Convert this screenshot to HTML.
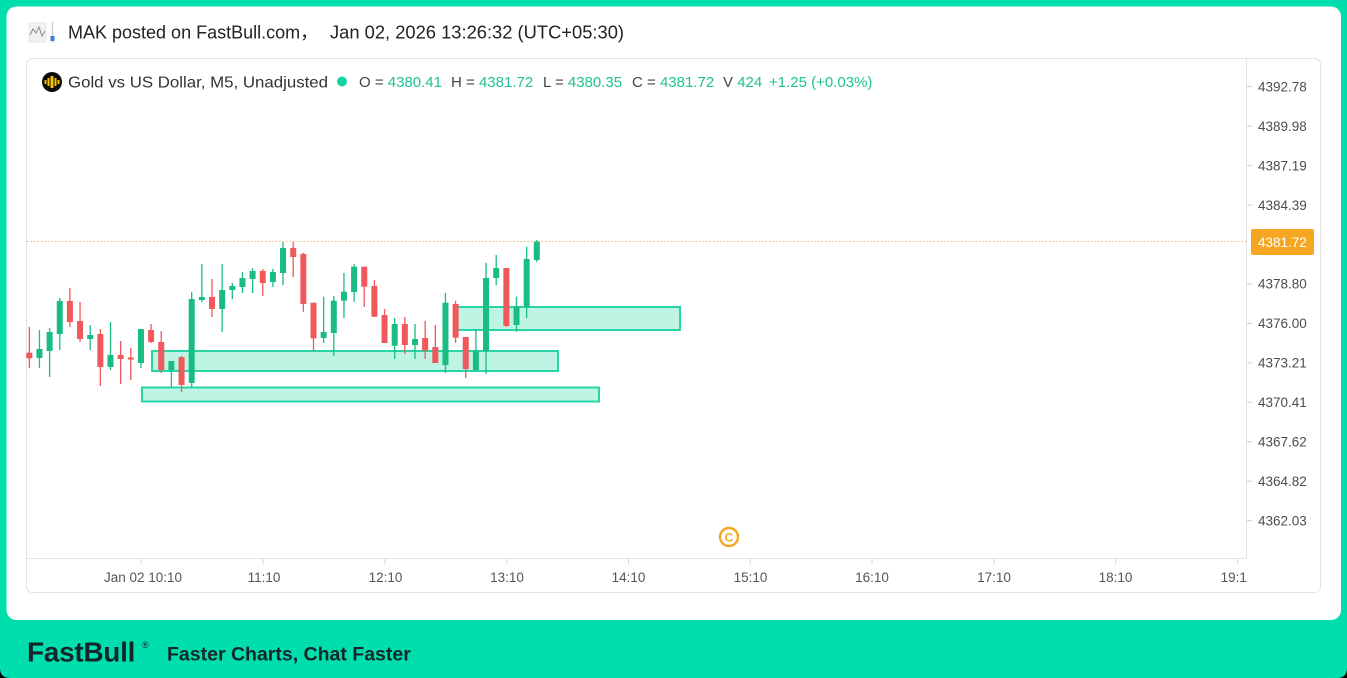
<!DOCTYPE html>
<html>
<head>
<meta charset="utf-8">
<style>
html,body{margin:0;padding:0;background:#000;}
svg{display:block;}
text{font-family:"Liberation Sans","Noto Sans CJK SC",sans-serif;}
</style>
</head>
<body>
<svg width="1347" height="678" viewBox="0 0 1347 678" xmlns="http://www.w3.org/2000/svg">
<defs>
<clipPath id="plotclip"><rect x="27" y="559" width="1219.5" height="32"/></clipPath>
</defs>
<!-- outer green -->
<path d="M0 0H1347V668Q1347 678 1337 678H10Q0 678 0 668Z" fill="#00DEAE"/>
<!-- white card -->
<rect x="6.5" y="6.5" width="1334.5" height="613.5" rx="10" fill="#ffffff"/>

<!-- header icon -->
<g>
<rect x="29" y="23" width="17" height="19" fill="#f2f2f2" stroke="#e2e2e2" stroke-width="0.8"/>
<polyline points="30,35 33,29 36,33 39,27 42,36 45,31" fill="none" stroke="#8a8a8a" stroke-width="1"/>
<line x1="52.5" y1="22" x2="52.5" y2="43" stroke="#d0d0d0" stroke-width="1.5"/>
<rect x="50.5" y="36" width="4" height="5" fill="#3d7fd6"/>
</g>
<text x="68" y="38.5" font-size="18" fill="#222">MAK posted on FastBull.com，</text>
<text x="330" y="38.5" font-size="18" fill="#222" textLength="294" lengthAdjust="spacingAndGlyphs">Jan 02, 2026 13:26:32 (UTC+05:30)</text>

<!-- chart frame -->
<rect x="26.5" y="58.5" width="1294" height="534" rx="6" fill="#fff" stroke="#e2e2e2" stroke-width="1"/>
<line x1="1246.5" y1="59" x2="1246.5" y2="558.5" stroke="#e4e4e4" stroke-width="1"/>
<line x1="27" y1="558.5" x2="1246.5" y2="558.5" stroke="#e4e4e4" stroke-width="1"/>

<!-- legend -->
<circle cx="52" cy="82" r="10" fill="#0d0d0d"/>
<g fill="#f5c400">
<rect x="44.5" y="80" width="2" height="4"/>
<rect x="47.5" y="78" width="2" height="8"/>
<rect x="50.5" y="76" width="3" height="12"/>
<rect x="54.5" y="78" width="2" height="8"/>
<rect x="57.5" y="80" width="2" height="4"/>
</g>
<text x="68" y="87.5" font-size="16" fill="#333" textLength="260" lengthAdjust="spacingAndGlyphs">Gold vs US Dollar, M5, Unadjusted</text>
<circle cx="342" cy="81.5" r="5" fill="#14d4a2"/>
<g font-size="15">
<text x="359" y="87" fill="#444">O = <tspan fill="#1fc292">4380.41</tspan></text>
<text x="451" y="87" fill="#444">H = <tspan fill="#1fc292">4381.72</tspan></text>
<text x="543" y="87" fill="#444">L = <tspan fill="#1fc292">4380.35</tspan></text>
<text x="632" y="87" fill="#444">C = <tspan fill="#1fc292">4381.72</tspan></text>
<text x="723" y="87" fill="#444">V <tspan fill="#1fc292">424</tspan></text>
<text x="769" y="87" fill="#1fc292">+1.25 (+0.03%)</text>
</g>

<!-- current price dotted line -->
<line x1="27" y1="241.5" x2="1246" y2="241.5" stroke="#f4bc6c" stroke-width="1" stroke-dasharray="1.5,2"/>

<!-- zones -->
<g fill="#bdf4e4" stroke="#27d6a4" stroke-width="2">
<rect x="142" y="387.5" width="457" height="14"/>
<rect x="152" y="351" width="406" height="20"/>
<rect x="457" y="307" width="223" height="23"/>
</g>

<!-- candles: green -->
<path fill="none" stroke="#19bc83" stroke-width="1.3" d="M39.45 330V368 M49.6 328V377 M59.75 298V350 M90.2 325V350 M110.5 322V370 M140.95 329V368 M171.4 361V388 M191.7 292V387 M201.85 264V302 M222.15 264V332 M232.3 283V299 M242.45 272V293 M252.6 268V293 M272.9 269V287 M283.05 242V285 M323.65 296.7V343 M333.8 296V356 M343.95 273V318 M354.1 264V301.7 M394.7 318V359 M415 324V359 M445.45 293V373 M475.9 329V370.7 M486.05 262.7V374 M496.2 255V285 M516.5 296.7V331.7 M526.65 246.7V318 M536.8 240V262"/>
<g fill="#19bc83">
<rect x="36.45" y="349" width="6" height="9"/>
<rect x="46.6" y="332" width="6" height="19"/>
<rect x="56.75" y="301" width="6" height="33"/>
<rect x="87.2" y="335" width="6" height="4"/>
<rect x="107.5" y="355" width="6" height="12"/>
<rect x="137.95" y="329" width="6" height="34"/>
<rect x="168.4" y="361" width="6" height="9"/>
<rect x="188.7" y="299" width="6" height="84"/>
<rect x="198.85" y="297" width="6" height="3"/>
<rect x="219.15" y="290" width="6" height="19"/>
<rect x="229.3" y="286" width="6" height="4"/>
<rect x="239.45" y="278" width="6" height="9"/>
<rect x="249.6" y="271" width="6" height="8"/>
<rect x="269.9" y="272" width="6" height="10"/>
<rect x="280.05" y="248" width="6" height="25"/>
<rect x="320.65" y="332" width="6" height="6"/>
<rect x="330.8" y="300.7" width="6" height="32.3"/>
<rect x="340.95" y="291.7" width="6" height="9"/>
<rect x="351.1" y="266.7" width="6" height="25.3"/>
<rect x="391.7" y="324" width="6" height="21.7"/>
<rect x="412" y="339" width="6" height="6"/>
<rect x="442.45" y="302.7" width="6" height="62.3"/>
<rect x="472.9" y="350.7" width="6" height="19.3"/>
<rect x="483.05" y="278" width="6" height="72.7"/>
<rect x="493.2" y="268" width="6" height="10"/>
<rect x="513.5" y="306.7" width="6" height="18.3"/>
<rect x="523.65" y="259" width="6" height="48"/>
<rect x="533.8" y="241.7" width="6" height="18.3"/>
</g>

<!-- candles: red -->
<path fill="none" stroke="#f0585b" stroke-width="1.3" d="M29.3 326.7V368.3 M69.9 288V327 M80.05 302V342 M100.35 329V386 M120.65 341V384 M130.8 348V380 M151.1 324V343 M161.25 331V373 M181.55 356V392 M212 279V317 M262.75 269V296 M293.2 242V277 M303.35 252.7V311.7 M313.5 302.7V350.7 M364.25 266.7V307 M374.4 280V317 M384.55 309V343 M404.85 317V354 M425.15 320.7V359 M435.3 325V363 M455.6 300.7V343 M465.75 336.7V378 M506.35 268V326.7"/>
<g fill="#f0585b">
<rect x="26.3" y="352.7" width="6" height="5.6"/>
<rect x="66.9" y="301" width="6" height="21"/>
<rect x="77.05" y="321" width="6" height="18"/>
<rect x="97.35" y="334" width="6" height="33"/>
<rect x="117.65" y="355" width="6" height="4"/>
<rect x="127.8" y="357.5" width="6" height="2"/>
<rect x="148.1" y="330" width="6" height="12"/>
<rect x="158.25" y="342" width="6" height="28"/>
<rect x="178.55" y="357" width="6" height="28"/>
<rect x="209" y="297" width="6" height="12"/>
<rect x="259.75" y="271" width="6" height="12"/>
<rect x="290.2" y="248" width="6" height="9"/>
<rect x="300.35" y="254" width="6" height="50"/>
<rect x="310.5" y="302.7" width="6" height="35.6"/>
<rect x="361.25" y="266.7" width="6" height="20"/>
<rect x="371.4" y="286" width="6" height="30.7"/>
<rect x="381.55" y="315" width="6" height="28"/>
<rect x="401.85" y="324" width="6" height="21"/>
<rect x="422.15" y="338" width="6" height="12.7"/>
<rect x="432.3" y="347" width="6" height="16"/>
<rect x="452.6" y="304" width="6" height="33.7"/>
<rect x="462.75" y="337" width="6" height="32"/>
<rect x="503.35" y="268" width="6" height="58"/>
</g>

<!-- copyright icon -->
<circle cx="729" cy="537" r="9" fill="none" stroke="#f5a623" stroke-width="2.4"/>
<text x="729" y="541.5" font-size="12" font-weight="bold" fill="#f5a623" text-anchor="middle">C</text>

<!-- price axis -->
<g stroke="#cfcfcf" stroke-width="1">
<line x1="1247" y1="86.7" x2="1252" y2="86.7"/>
<line x1="1247" y1="126.15" x2="1252" y2="126.15"/>
<line x1="1247" y1="165.6" x2="1252" y2="165.6"/>
<line x1="1247" y1="205.05" x2="1252" y2="205.05"/>
<line x1="1247" y1="283.95" x2="1252" y2="283.95"/>
<line x1="1247" y1="323.4" x2="1252" y2="323.4"/>
<line x1="1247" y1="362.85" x2="1252" y2="362.85"/>
<line x1="1247" y1="402.3" x2="1252" y2="402.3"/>
<line x1="1247" y1="441.75" x2="1252" y2="441.75"/>
<line x1="1247" y1="481.2" x2="1252" y2="481.2"/>
<line x1="1247" y1="520.65" x2="1252" y2="520.65"/>
</g>
<g font-size="13.5" fill="#4d4d4d">
<text x="1258" y="91.5">4392.78</text>
<text x="1258" y="131">4389.98</text>
<text x="1258" y="170.4">4387.19</text>
<text x="1258" y="209.8">4384.39</text>
<text x="1258" y="288.7">4378.80</text>
<text x="1258" y="328.2">4376.00</text>
<text x="1258" y="367.6">4373.21</text>
<text x="1258" y="407.1">4370.41</text>
<text x="1258" y="446.5">4367.62</text>
<text x="1258" y="486">4364.82</text>
<text x="1258" y="525.4">4362.03</text>
</g>
<rect x="1251" y="229" width="63" height="26" rx="2" fill="#f5a623"/>
<text x="1258" y="247" font-size="13.5" fill="#ffffff">4381.72</text>

<!-- time axis -->
<g stroke="#d6d6d6" stroke-width="1">
<line x1="141.3" y1="559" x2="141.3" y2="564"/>
<line x1="263.1" y1="559" x2="263.1" y2="564"/>
<line x1="384.9" y1="559" x2="384.9" y2="564"/>
<line x1="506.7" y1="559" x2="506.7" y2="564"/>
<line x1="628.5" y1="559" x2="628.5" y2="564"/>
<line x1="750.3" y1="559" x2="750.3" y2="564"/>
<line x1="872.1" y1="559" x2="872.1" y2="564"/>
<line x1="993.9" y1="559" x2="993.9" y2="564"/>
<line x1="1115.7" y1="559" x2="1115.7" y2="564"/>
<line x1="1237.5" y1="559" x2="1237.5" y2="564"/>
</g>
<g font-size="13.5" fill="#555" text-anchor="middle" clip-path="url(#plotclip)">
<text x="143" y="582">Jan 02 10:10</text>
<text x="264" y="582">11:10</text>
<text x="385.5" y="582">12:10</text>
<text x="507" y="582">13:10</text>
<text x="628.5" y="582">14:10</text>
<text x="750.5" y="582">15:10</text>
<text x="872" y="582">16:10</text>
<text x="994" y="582">17:10</text>
<text x="1115.5" y="582">18:10</text>
<text x="1237.5" y="582">19:10</text>
</g>

<!-- footer -->
<text x="27" y="661.5" font-size="28" font-weight="bold" fill="#13272b" letter-spacing="-0.3">FastBull</text>
<text x="142" y="648" font-size="9" fill="#13272b">®</text>
<text x="167" y="660.5" font-size="19.5" font-weight="bold" fill="#13272b">Faster Charts, Chat Faster</text>
</svg>
</body>
</html>
